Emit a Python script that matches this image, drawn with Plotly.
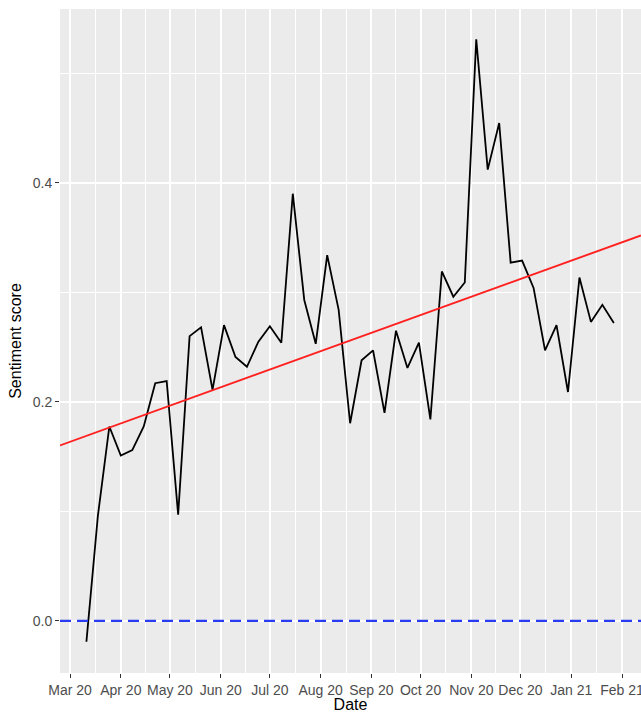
import numpy as np
import pandas as pd
import plotly.graph_objects as go

start_date = "2020-03-11"
scores = [-0.019, 0.096, 0.1775, 0.151, 0.156, 0.1775, 0.217, 0.219, 0.097, 0.260,
          0.268, 0.211, 0.270, 0.241, 0.232, 0.255, 0.269, 0.254, 0.390, 0.293,
          0.253, 0.334, 0.284, 0.1805, 0.238, 0.247, 0.190, 0.265, 0.231, 0.254,
          0.184, 0.319, 0.296, 0.309, 0.531, 0.412, 0.4545, 0.327, 0.329, 0.304,
          0.247, 0.270, 0.209, 0.3135, 0.273, 0.2886, 0.272]
dates = pd.date_range(start_date, periods=len(scores), freq="7D")

x_range = [pd.Timestamp("2020-02-23 21:00"), pd.Timestamp("2021-02-12 14:00")]
y_range = [-0.0475, 0.5586]

month_ticks = pd.date_range("2020-03-01", "2021-02-01", freq="MS")
month_labels = [d.strftime("%b %y") for d in month_ticks]
minor_x = [month_ticks[i] + (month_ticks[i + 1] - month_ticks[i]) / 2 for i in range(len(month_ticks) - 1)]

# linear fit (lm) drawn over the full x range
t0 = pd.Timestamp("2020-01-01")
days = np.array([(d - t0).total_seconds() / 86400 for d in dates])
slope, intercept = np.polyfit(days, np.array(scores), 1)
fit_x = x_range
fit_days = np.array([(d - t0).total_seconds() / 86400 for d in fit_x])
fit_y = slope * fit_days + intercept

fig = go.Figure()
fig.add_trace(go.Scatter(x=dates, y=scores, mode="lines",
                         line=dict(color="black", width=1.8), showlegend=False))
fig.add_trace(go.Scatter(x=fit_x, y=fit_y, mode="lines",
                         line=dict(color="#ff2020", width=1.9), showlegend=False))
fig.add_shape(type="line", xref="paper", x0=0, x1=1, yref="y", y0=0, y1=0,
              line=dict(color="#2a3cf0", width=2.3, dash="11px,6px"))

fig.update_layout(
    width=641, height=713,
    margin=dict(l=60, r=0, t=9, b=40),
    paper_bgcolor="white", plot_bgcolor="#EBEBEB",
    font=dict(family="Liberation Sans, Arial, sans-serif"),
    showlegend=False,
)
fig.update_xaxes(
    range=x_range, tickmode="array", tickvals=month_ticks, ticktext=month_labels,
    showgrid=True, gridcolor="white", gridwidth=2,
    minor=dict(tickmode="array", tickvals=minor_x, showgrid=True, gridcolor="white", gridwidth=1, ticks=""),
    ticks="outside", ticklen=4, tickcolor="#333333", tickwidth=1.2,
    tickfont=dict(size=14, color="#4d4d4d"), ticklabeloverflow="allow",
    title=dict(text="Date", font=dict(size=16, color="black"), standoff=2),
    zeroline=False, showline=False, automargin=False,
)
fig.update_yaxes(
    range=y_range, tickmode="array", tickvals=[0.0, 0.2, 0.4], ticktext=["0.0", "0.2", "0.4"],
    showgrid=True, gridcolor="white", gridwidth=2,
    minor=dict(tickmode="array", tickvals=[0.1, 0.3, 0.5], showgrid=True, gridcolor="white", gridwidth=1, ticks=""),
    ticks="outside", ticklen=4, tickcolor="#333333", tickwidth=1.2,
    tickfont=dict(size=14, color="#4d4d4d"),
    title=dict(text="Sentiment score", font=dict(size=16, color="black"), standoff=7),
    zeroline=False, showline=False, automargin=False,
)
fig.write_html("out.html", config={"displayModeBar": False},
               post_script="document.body.style.margin='0';document.body.style.overflow='hidden';")
